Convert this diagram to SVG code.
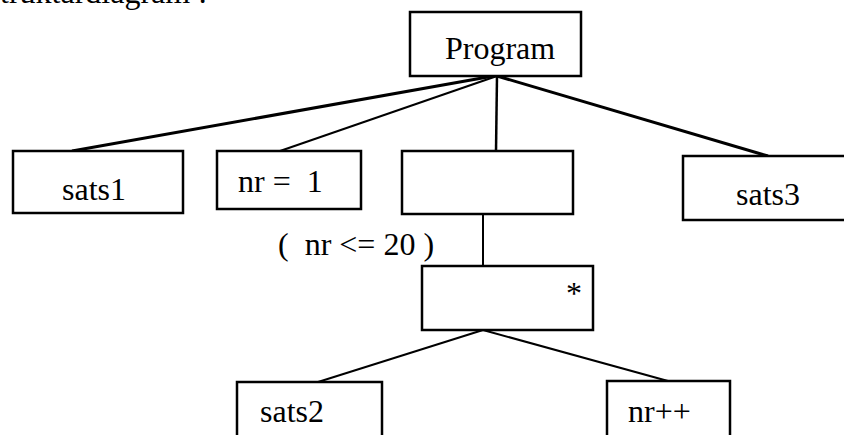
<svg xmlns="http://www.w3.org/2000/svg" width="844" height="435" viewBox="0 0 844 435">
<style>
  .box { fill: #fff; stroke: #000; stroke-width: 2.5; }
  .t { font-family: "Liberation Serif", "Times New Roman", serif; font-size: 32px; fill: #000; white-space: pre; }
  .ln { stroke: #000; fill: none; stroke-linecap: butt; }
</style>
<rect width="844" height="435" fill="#fff"/>
<text class="t" x="0" y="3" xml:space="preserve">truktardiagram :</text>
<g id="connectors">
  <line class="ln" x1="499" y1="75" x2="72" y2="151" stroke-width="3"/>
  <line class="ln" x1="497" y1="76" x2="280" y2="151" stroke-width="2"/>
  <line class="ln" x1="497" y1="76" x2="496" y2="151" stroke-width="2.5"/>
  <line class="ln" x1="497" y1="76" x2="768" y2="156" stroke-width="3"/>
  <line class="ln" x1="483" y1="214" x2="483" y2="266" stroke-width="2"/>
  <line class="ln" x1="483" y1="330" x2="318" y2="382" stroke-width="2"/>
  <line class="ln" x1="483" y1="330" x2="668" y2="381" stroke-width="2"/>
</g>
<g id="program">
  <rect class="box" x="410" y="12" width="171" height="64"/>
  <text class="t" x="445" y="59">Program</text>
</g>
<g id="sats1">
  <rect class="box" x="13" y="151" width="170" height="62"/>
  <text class="t" x="62" y="200">sats1</text>
</g>
<g id="nr1">
  <rect class="box" x="217" y="151" width="144" height="58"/>
  <text class="t" x="238" y="192" xml:space="preserve">nr =  1</text>
</g>
<g id="loop">
  <rect class="box" x="402" y="151" width="171" height="63"/>
</g>
<g id="sats3">
  <rect class="box" x="683" y="156" width="175" height="64"/>
  <text class="t" x="736" y="205">sats3</text>
</g>
<g id="condition">
  <text class="t" x="278" y="255" xml:space="preserve">(  nr &lt;= 20 )</text>
</g>
<g id="body">
  <rect class="box" x="422" y="266" width="171" height="64"/>
  <text class="t" x="566" y="304">*</text>
</g>
<g id="sats2">
  <rect class="box" x="237" y="382" width="145" height="70"/>
  <text class="t" x="260" y="422">sats2</text>
</g>
<g id="nrpp">
  <rect class="box" x="607" y="381" width="123" height="70"/>
  <text class="t" x="628" y="422">nr++</text>
</g>
</svg>
